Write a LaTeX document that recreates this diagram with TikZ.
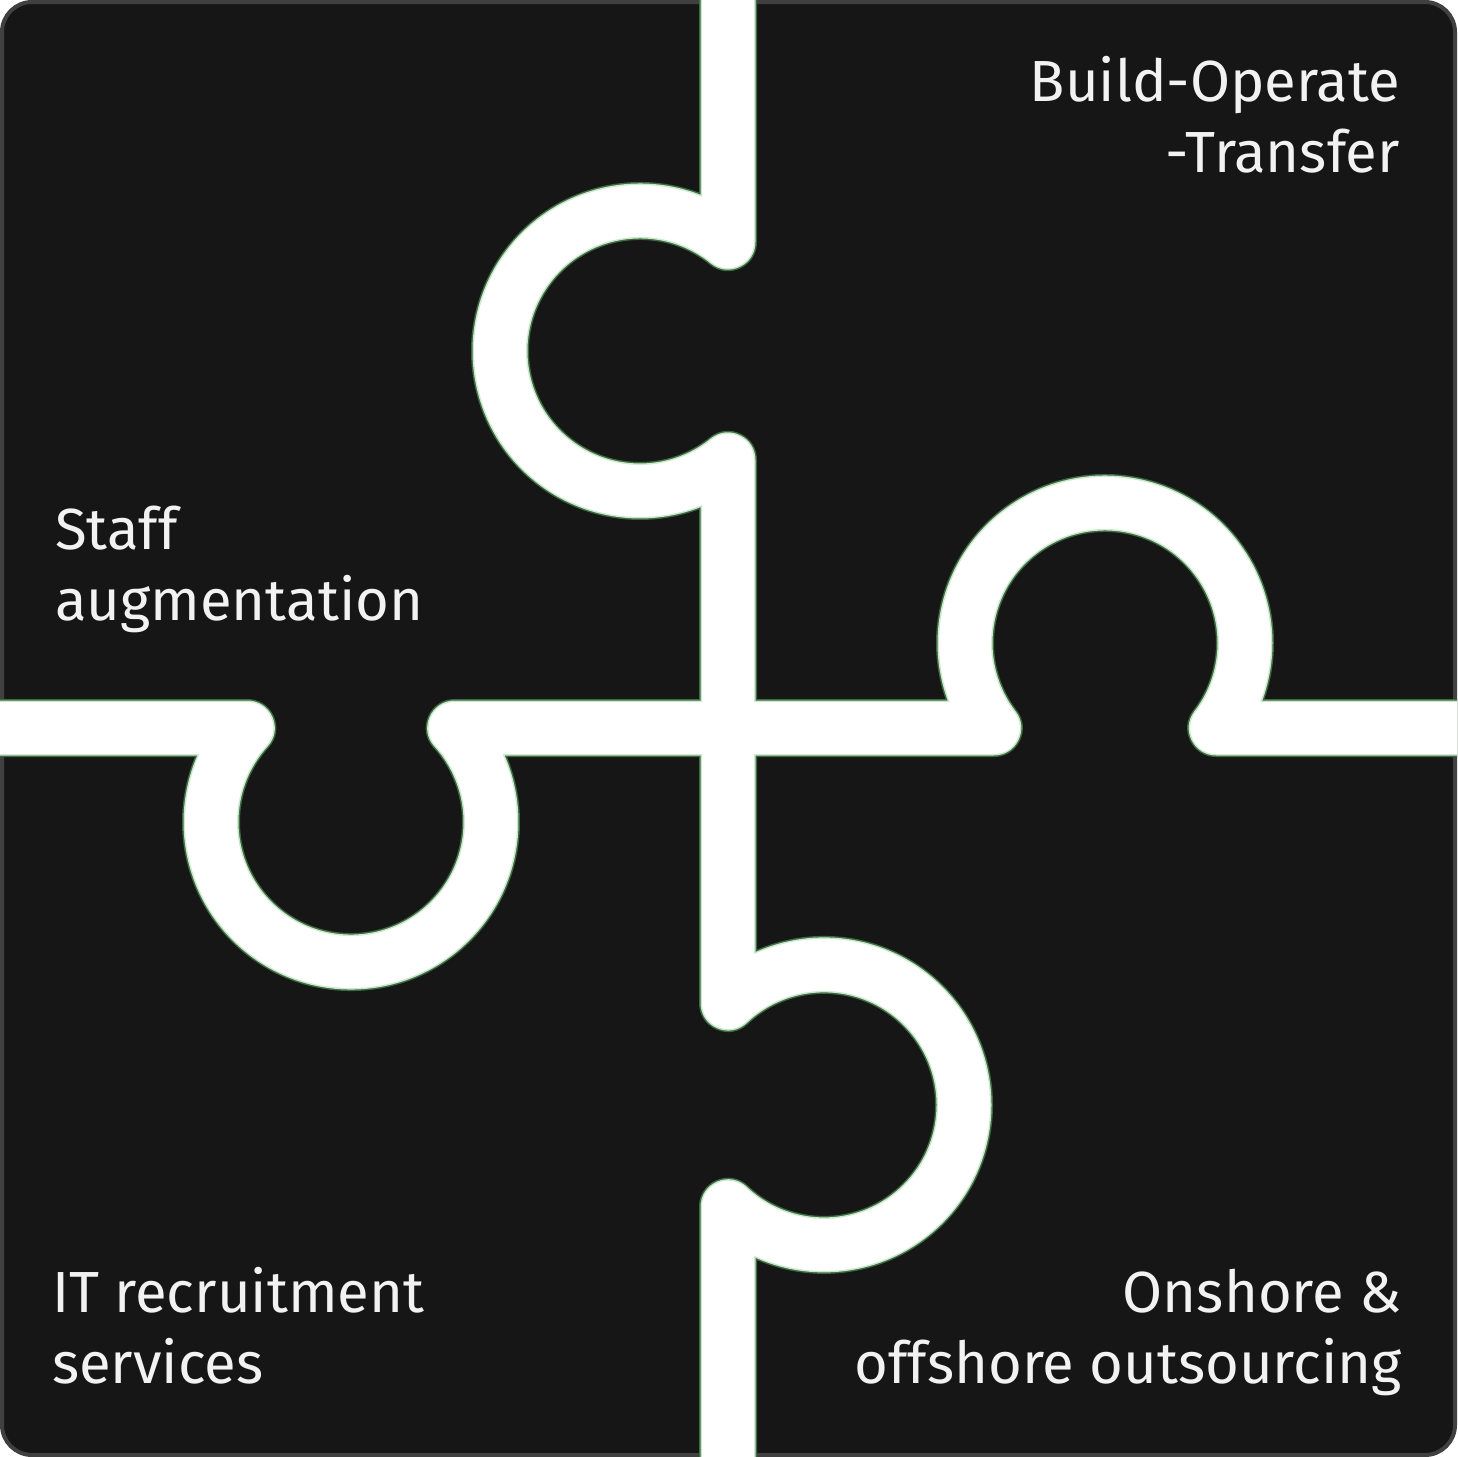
\documentclass[tikz,border=0pt]{standalone}
\usepackage{fontspec}
\setmainfont{Fira Sans}
\usetikzlibrary{positioning}

\definecolor{piece}{HTML}{161616}
\definecolor{rim}{HTML}{404040}
\definecolor{seam}{HTML}{3E6A42}
\definecolor{seamlight}{HTML}{C9E8CB}
\definecolor{labelgrey}{HTML}{F2F2F2}

\tikzset{
  gap/.style={line width=#1, line join=round, line cap=round},
  lbl/.style={text=labelgrey, inner sep=0pt, font=\fontsize{58}{71}\selectfont},
}

% centre lines of the two seams (pixel units, y down)
\newcommand{\vseam}{(728,-40) -- (728,242.1)
  arc[start angle=-51.05, end angle=-308.95, radius=140] -- (728,1003)
  arc[start angle=-133.3, end angle=133.3, radius=140] -- (728,1500)}
\newcommand{\hseam}{(-40,728) -- (247.3,728)
  arc[start angle=222.2, end angle=-42.2, radius=140] -- (993.8,728)
  arc[start angle=142.6, end angle=397.4, radius=140] -- (1500,728)}

\begin{document}
\begin{tikzpicture}[x=1pt, y=-1pt]
        \useasboundingbox (0,0) rectangle (1457,1457);
        \clip (0,0) rectangle (1457,1457);
        \fill[white] (0,0) rectangle (1457,1457);
        \draw[fill=piece, draw=rim, line width=4pt, rounded corners=30pt] (2,2) rectangle (1455,1455);
        % seams: outline first, then the white cut
        \draw[gap=58pt, seam] \vseam;
        \draw[gap=58pt, seam] \hseam;
        \draw[gap=55pt, seamlight] \vseam;
        \draw[gap=55pt, seamlight] \hseam;
        \draw[gap=52pt, white] \vseam;
        \draw[gap=52pt, white] \hseam;
        % labels (base = last line)
        \node[lbl, anchor=base west, align=left] (staff) at (55,620) {Staff\\augmentation};
        \node[lbl, anchor=base east, align=right] (bot) at (1400,172) {Build-Operate\\-Transfer};
        \node[lbl, anchor=base west, align=left] (recruit) at (52,1383) {IT recruitment\\services};
        \node[lbl, anchor=base east, align=right] (outsource) at (1402,1383) {Onshore \&\\offshore outsourcing};
\end{tikzpicture}
\end{document}
